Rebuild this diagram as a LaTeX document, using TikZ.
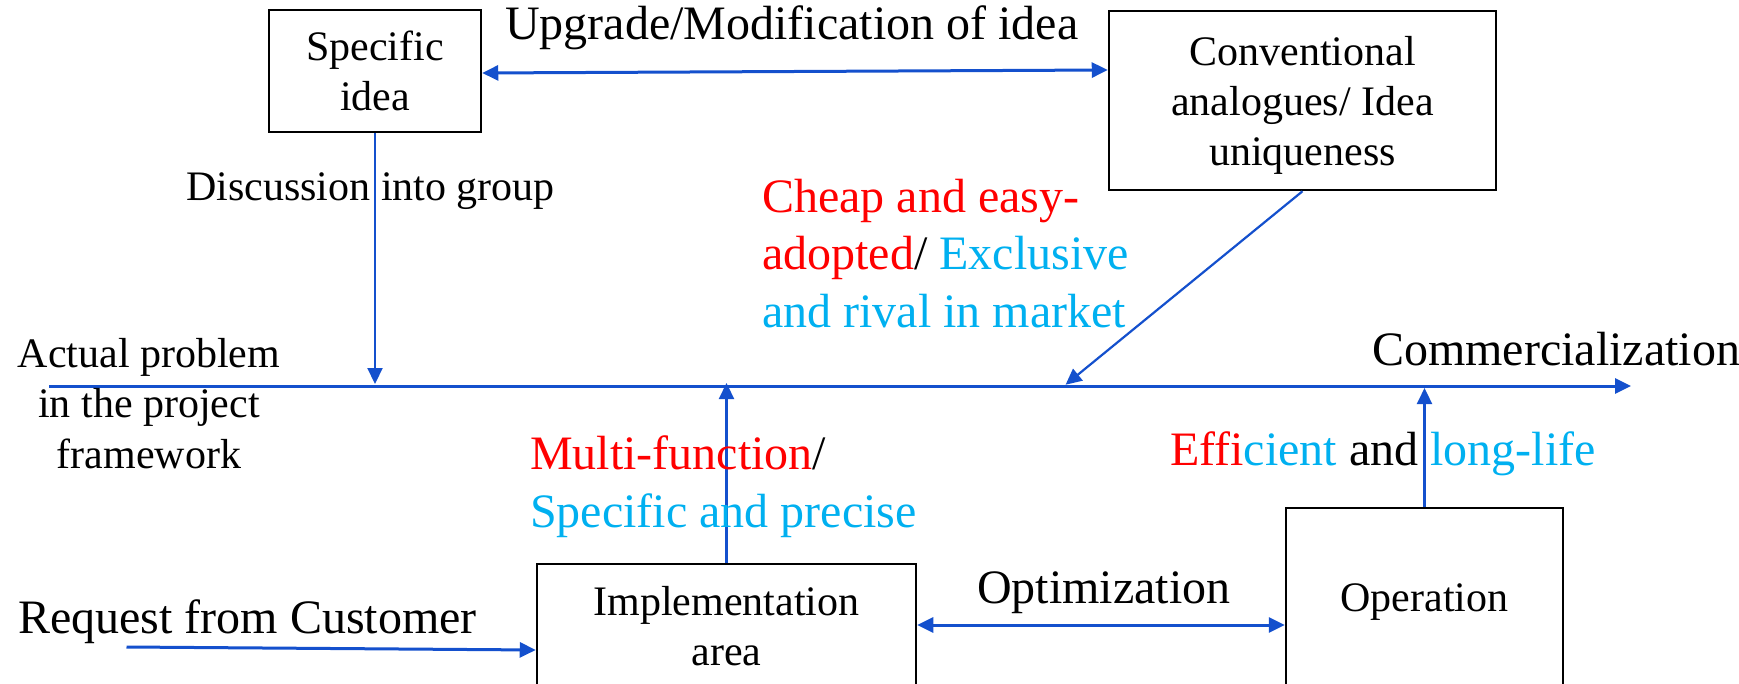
\documentclass[tikz,border=0pt]{standalone}
\usepackage{fontspec}
\setmainfont{Liberation Serif}
\usetikzlibrary{arrows.meta,calc}
\definecolor{arrowblue}{RGB}{20,80,205}
\definecolor{myred}{RGB}{255,0,0}
\definecolor{mycyan}{RGB}{0,176,240}
\begin{document}
\begin{tikzpicture}[x=1pt,y=-1pt,
  box/.style={draw=black,line width=2.5pt,inner sep=0pt,align=center,font=\fontsize{42}{50}\selectfont},
  conn/.style={draw=arrowblue,line width=3pt,-{Triangle[length=16pt,width=15pt]}},
  biconn/.style={draw=arrowblue,line width=3pt,{Triangle[length=16pt,width=15pt]}-{Triangle[length=16pt,width=15pt]}},
  thinconn/.style={draw=arrowblue,line width=2.2pt,-{Triangle[length=16pt,width=15pt]}},
  lbl/.style={inner sep=0pt,font=\fontsize{48}{57.5}\selectfont},
  slbl/.style={inner sep=0pt,font=\fontsize{42}{50.5}\selectfont}]
\useasboundingbox (0,0) rectangle (1739,684);
\clip (0,0) rectangle (1739,684);

% boxes
\node[box,minimum width=212pt,minimum height=122pt] (spec) at (375,71) {Specific\\idea};
\node[box,minimum width=387pt,minimum height=179pt,text depth=0pt] (conv) at (1302.5,100.5) {Conventional\\analogues/ Idea\\uniqueness};
\node[box,minimum width=379pt,minimum height=137pt,text depth=14pt] (impl) at (726.5,632.5) {Implementation\\area};
\node[box,minimum width=277pt,minimum height=189pt] (oper) at (1424.5,602.5) {Operation};

% main line
\coordinate (mainL) at (49,386);
\coordinate (mainR) at (1631,386);
\coordinate (diagEnd) at (1064,386);
\coordinate (reqStart) at (126.5,647);
\draw[conn] (mainL) -- (mainR);

% connectors
\draw[biconn] ([yshift=-2pt]spec.east) -- ([yshift=30.5pt]conv.west);
\draw[thinconn,shorten >=2pt] (spec.south) -- (spec.south |- mainL);
\draw[thinconn,shorten >=2pt] (conv.south) -- (diagEnd);
\draw[thinconn,shorten >=-3pt] (impl.north) -- (impl.north |- mainL);
\draw[thinconn,shorten >=2pt] (oper.north) -- (oper.north |- mainL);
\draw[biconn] ([yshift=7.5pt]impl.east) -- ([yshift=-22.5pt]oper.west);
\draw[conn] (reqStart) -- ([yshift=-17.5pt]impl.west);

% labels
\node[lbl,anchor=base west] (upg) at (505,40) {Upgrade/Modification of idea};
\node[slbl,anchor=base west] (disc) at (186,201) {Discussion into group};
\node[slbl,anchor=base,align=center] (actual) at (149,468) {Actual problem\\in the project\\framework};
\node[lbl,anchor=base west,align=left] (cheap) at (762,327) {\textcolor{myred}{Cheap and easy-}\\\textcolor{myred}{adopted}/ \textcolor{mycyan}{Exclusive}\\\textcolor{mycyan}{and rival in market}};
\node[lbl,anchor=base west] (comm) at (1372,365) {Commercialization};
\node[lbl,anchor=base west,align=left] (multi) at (530,527) {\textcolor{myred}{Multi-function}/\\\textcolor{mycyan}{Specific and precise}};
\node[lbl,anchor=base west] (eff) at (1170,465) {\textcolor{myred}{Effi}\textcolor{mycyan}{cient} and \textcolor{mycyan}{long-life}};
\node[lbl,anchor=base west] (opt) at (977,603) {Optimization};
\node[lbl,anchor=base west] (req) at (18,633) {Request from Customer};
\end{tikzpicture}
\end{document}
